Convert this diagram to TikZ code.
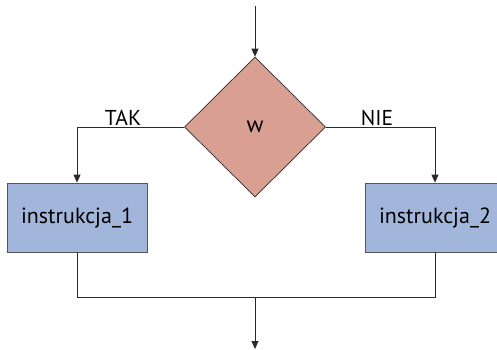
\documentclass[tikz,border=0pt]{standalone}
\usepackage{fontspec}
\setmainfont{PT Sans}
\usetikzlibrary{shapes.geometric,arrows.meta}
\definecolor{decfill}{HTML}{DA9F93}
\definecolor{boxfill}{HTML}{A2B5DA}
\definecolor{edge}{HTML}{2A2A2A}
\begin{document}
\begin{tikzpicture}[x=1pt,y=-1pt,
  flow/.style={draw=edge,line width=0.9pt},
  arr/.style={flow,-{Triangle[width=7pt,length=8pt]}},
  decision/.style={diamond,draw=edge,line width=0.7pt,fill=decfill,
    minimum width=141pt,minimum height=140pt,inner sep=0pt,
    font=\fontsize{23}{27}\selectfont},
  stepbox/.style={rectangle,draw=edge!80,line width=0.8pt,fill=boxfill,
    minimum width=140pt,minimum height=69pt,inner sep=0pt,
    font=\fontsize{22}{26}\selectfont},
  lbl/.style={font=\fontsize{21.5}{25}\selectfont,inner sep=0pt}]
\useasboundingbox (0,0) rectangle (497,349);
\begin{scope}
\clip (0,0) rectangle (497,349);
\node[decision] (w) at (255,127) {w};
\node[stepbox] (i1) at (77,217.5) {instrukcja\_1};
\node[stepbox] (i2) at (435,217.5) {instrukcja\_2};
\end{scope}
\coordinate (in) at (255,6);
\coordinate (out) at (255,349);
\coordinate (join) at (255,297);
\draw[arr] (in) -- (w.north);
\draw[arr] (w.west) -| (i1.north);
\draw[arr] (w.east) -| (i2.north);
\draw[flow] (i1.south) |- (join);
\draw[flow] (i2.south) |- (join);
\draw[arr] (join) -- (out);
\node[lbl] (tak) at (123,117.5) {TAK};
\node[lbl] (nie) at (377,117.5) {NIE};
\end{tikzpicture}
\end{document}
